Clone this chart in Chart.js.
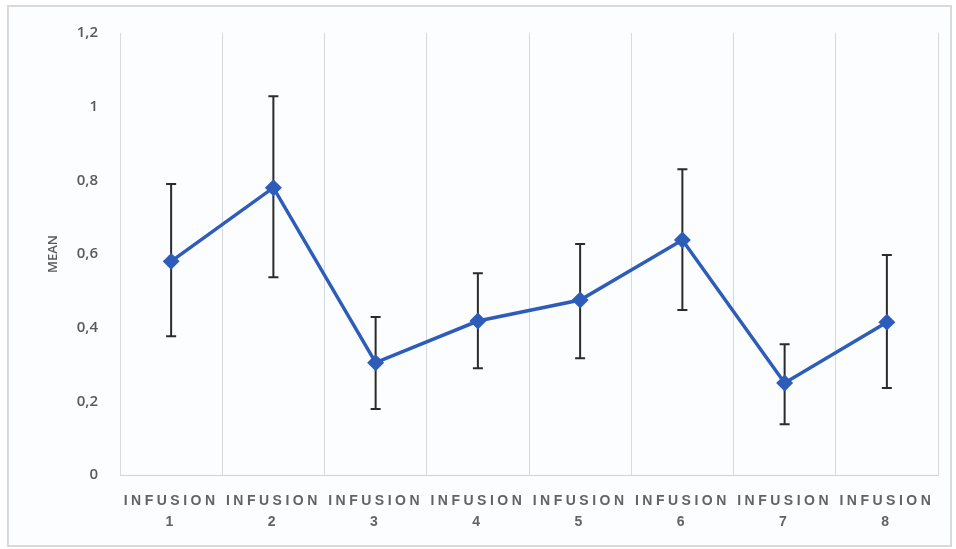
<!DOCTYPE html>
<html>
<head>
<meta charset="utf-8">
<script src="https://cdn.jsdelivr.net/npm/chart.js@4.4.0/dist/chart.umd.min.js"></script>
<style>
  body { margin: 0; background: #ffffff; }
  #frame {
    position: absolute; left: 7px; top: 5px; width: 941px; height: 538px;
    border: 2px solid #d9d9d9; background: #fcfdfe;
  }
  #wrap { position: absolute; left: 0; top: 0; width: 956px; height: 549px; }
</style>
</head>
<body>
<div id="frame"></div>
<div id="wrap"><canvas id="meanChart" width="956" height="549"></canvas></div>
<script>
// Categories and values
const categories = [
  ["INFUSION", "1"], ["INFUSION", "2"], ["INFUSION", "3"], ["INFUSION", "4"],
  ["INFUSION", "5"], ["INFUSION", "6"], ["INFUSION", "7"], ["INFUSION", "8"],
];
const meanValues = [0.58, 0.78, 0.305, 0.418, 0.475, 0.638, 0.25, 0.415];
const errTop = [0.79, 1.028, 0.429, 0.548, 0.627, 0.83, 0.355, 0.597];
const errBottom = [0.377, 0.537, 0.179, 0.29, 0.317, 0.448, 0.138, 0.236];
const yTickLabels = ["0", "0,2", "0,4", "0,6", "0,8", "1", "1,2"];

// Error bars drawn under the line
const errorBars = {
  id: "errorBars",
  beforeDatasetsDraw(chart) {
    const ctx = chart.ctx;
    const x = chart.scales.x;
    const y = chart.scales.y;
    ctx.save();
    ctx.strokeStyle = "#2b2b2b";
    ctx.lineWidth = 2;
    meanValues.forEach((v, i) => {
      const px = x.getPixelForValue(i);
      const top = y.getPixelForValue(errTop[i]);
      const bot = y.getPixelForValue(errBottom[i]);
      ctx.beginPath();
      ctx.moveTo(px, top);
      ctx.lineTo(px, bot);
      ctx.moveTo(px - 5, top);
      ctx.lineTo(px + 5, top);
      ctx.moveTo(px - 5, bot);
      ctx.lineTo(px + 5, bot);
      ctx.stroke();
    });
    ctx.restore();
  },
};

// Spaced-out x labels like the original
const spacedLabels = {
  id: "spacedLabels",
  beforeDraw(chart) {
    const sx = chart.scales.x;
    if (sx._spaced) return;
    const orig = sx.drawLabels.bind(sx);
    sx.drawLabels = function (area) {
      this.ctx.save();
      this.ctx.letterSpacing = "3.5px";
      orig(area);
      this.ctx.restore();
    };
    sx._spaced = true;
  },
};

const ctx = document.getElementById("meanChart").getContext("2d");
new Chart(ctx, {
  type: "line",
  data: {
    labels: categories,
    datasets: [
      {
        label: "MEAN",
        data: meanValues,
        borderColor: "#2d5cba",
        backgroundColor: "#2d5cba",
        borderWidth: 3.5,
        pointStyle: "rectRot",
        pointRadius: 6,
        pointHoverRadius: 6,
        tension: 0,
        fill: false,
      },
    ],
  },
  options: {
    responsive: false,
    animation: false,
    layout: { padding: { left: 45, right: 18, top: 33, bottom: 0 } },
    plugins: {
      legend: { display: false },
      tooltip: { enabled: false },
    },
    scales: {
      x: {
        offset: true,
        grid: { display: true, offset: true, color: "#d6d9dd", lineWidth: 1, drawTicks: false },
        border: { display: true, color: "#d0d3d6", width: 1 },
        ticks: {
          color: "#636363",
          font: { family: "'Liberation Sans', Arial, sans-serif", size: 14, weight: "bold", lineHeight: 1.55 },
          padding: 15,
          maxRotation: 0,
          autoSkip: false,
        },
        afterFit(scale) { scale.height = 74; },
      },
      y: {
        min: 0,
        max: 1.2,
        grid: { display: false },
        border: { display: false },
        ticks: {
          stepSize: 0.2,
          color: "#595959",
          font: { family: "'Open Sans', sans-serif", size: 15, weight: "600" },
          padding: 14,
          callback: (v, i) => yTickLabels[i],
        },
        title: {
          display: true,
          text: "MEAN",
          color: "#595959",
          font: { family: "'Open Sans', sans-serif", size: 13, weight: "600" },
          padding: { top: 0, bottom: 0 },
        },
        afterFit(scale) { scale.width = 75; },
      },
    },
  },
  plugins: [errorBars, spacedLabels],
});
</script>
</body>
</html>
